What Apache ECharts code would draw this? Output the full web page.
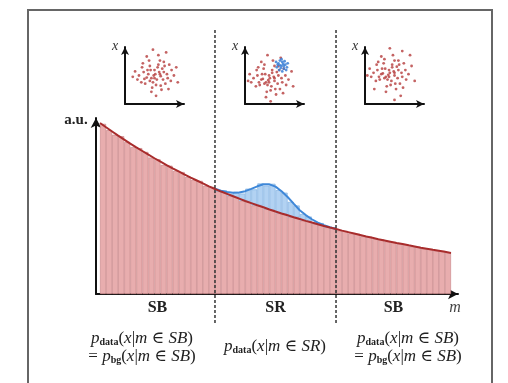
<!DOCTYPE html>
<html><head><meta charset="utf-8">
<script src="https://cdn.jsdelivr.net/npm/echarts@6/dist/echarts.min.js"></script>
<style>html,body{margin:0;padding:0;background:#fff}#c{width:508px;height:383px}</style>
</head><body><div id="c"></div>
<script>
// ---- data ----
const nBins = 58;
const srStart = 19, srEnd = 39;
// background histogram (bin heights, a.u.)
const bgBars = [94.0,90.6,88.0,87.2,84.0,81.2,80.6,78.5,75.4,74.5,71.3,70.9,68.0,67.4,64.6,63.0,62.5,59.8,59.2,
  56.8,56.3,54.2,53.7,51.5,51.1,49.0,48.8,46.9,46.5,44.6,44.3,42.5,42.3,40.6,40.3,38.7,38.4,36.9,36.6,
  35.1,34.9,33.5,33.3,31.9,31.7,30.4,30.2,29.0,28.8,27.6,27.5,26.3,26.2,25.1,24.9,23.9,23.8,23.0];
// signal histogram in SR (bins 19..38), stacked on background
const sigBars = [0.3,0.9,1.2,2.8,4.0,7.1,8.8,12.3,13.0,14.4,12.8,11.7,8.4,6.6,3.6,2.5,1.0,0.8,0.2,0.1];
// background fit curve at bin edges 0..58
const bgCurve = [94.5,92.1,89.8,87.5,85.3,83.1,81.0,79.0,77.0,75.0,73.1,71.2,69.4,67.7,66.0,64.3,62.7,61.1,59.5,
  58.0,56.6,55.3,54.0,52.7,51.4,50.2,49.0,47.9,46.7,45.6,44.5,43.5,42.4,41.4,40.4,39.5,38.5,37.6,36.7,
  35.9,35.0,34.2,33.4,32.6,31.8,31.1,30.3,29.6,28.9,28.2,27.6,26.9,26.3,25.6,25.0,24.4,23.9,23.3,22.7];
// background + signal curve at bin edges 19..39
const sbCurve = [58.2,57.1,56.3,56.0,56.1,56.8,58.1,59.5,60.6,60.6,59.3,56.8,53.6,49.9,46.3,43.6,41.3,39.4,38.0,36.9,35.9];
// inset scatter clouds (x vs. feature), arbitrary units
const scatterSB1 = [[51,52],[45,58],[58,49],[40,47],[62,55],[48,40],[55,66],[36,55],[67,46],[44,64],[53,44],[60,60],[30,50],[72,58],[47,32],[57,72],[38,38],[64,38],[50,58],[42,52],[56,55],[34,62],[69,66],[46,46],[52,36],[61,44],[28,44],[75,50],[43,72],[59,29],[49,50],[37,45],[66,52],[54,62],[41,58],[63,64],[33,40],[71,42],[46,26],[55,80],[25,56],[78,62],[52,20],[40,78],[65,84],[80,40],[22,48],[48,88],[58,35],[44,42],[35,68],[68,30],[57,52],[50,46],[62,70]];
const scatterSRbg = [[44,46],[38,52],[50,42],[33,44],[55,50],[41,36],[47,58],[28,50],[60,40],[36,60],[46,34],[53,55],[23,46],[64,50],[40,26],[50,64],[31,36],[57,30],[43,50],[35,45],[49,48],[27,58],[62,60],[39,40],[45,28],[54,38],[20,40],[68,44],[37,66],[52,22],[42,43],[30,40],[59,46],[47,54],[34,52],[56,58],[26,34],[65,36],[39,18],[48,72],[18,52],[72,56],[45,12],[33,70],[58,76],[74,34],[16,42],[41,80],[51,30],[37,38],[29,62],[61,24],[50,46],[43,40],[55,64]];
const scatterSRsig = [[59,64],[55,68],[62,60],[57,72],[64,66],[53,62],[60,70],[66,62],[56,58],[61,67],[58,61],[63,71],[54,66],[65,58],[60,56],[57,65],[62,64],[52,70],[67,68],[59,74]];
const scatterSB2 = [[44,54],[38,60],[50,50],[33,52],[55,58],[41,44],[47,66],[28,58],[60,48],[36,68],[46,42],[53,63],[23,54],[64,58],[40,34],[50,72],[31,44],[57,38],[43,58],[35,53],[49,56],[27,66],[62,68],[39,48],[45,36],[54,46],[20,48],[68,52],[37,74],[52,30],[42,51],[30,48],[59,54],[47,62],[34,60],[56,66],[26,42],[65,44],[39,26],[48,80],[18,60],[72,64],[50,14],[33,78],[60,86],[76,42],[15,50],[44,90],[51,38],[37,46],[29,70],[61,32],[50,54],[43,48],[55,72],[70,80],[58,20],[24,30]];
const regionLabels = ['SB','SR','SB'];
const regionCenters = [9.5, 29, 48.5];

// ---- build ----
const cats = bgBars.map((_, i) => 'b' + i);
const sigFull = bgBars.map((_, i) => (i >= srStart && i < srEnd) ? sigBars[i - srStart] : '-');
const bgCurveData = bgCurve.map((v, i) => [i, v]);
const sbCurveData = sbCurve.map((v, i) => [srStart + i, v]);

const AX = '#111';
const serif = '"Liberation Serif","DejaVu Serif",serif';
function insetAxis(grid, min, max) {
  return {type: 'value', gridIndex: grid, min, max, show: true,
    axisLine: {show: true, symbol: ['none', 'arrow'], symbolSize: [6, 8], lineStyle: {color: AX, width: 2}},
    axisTick: {show: false}, axisLabel: {show: false}, splitLine: {show: false}};
}
const hidden = (o) => Object.assign({show: false, splitLine: {show: false}}, o);

const insetLefts = [125, 245, 365];
const grids = [
  {left: 100, right: 57, top: 113, bottom: 89},       // 0 bars/curves
  {left: 96, right: 50, top: 118, bottom: 89},        // 1 main axes
  {left: 100, right: 57, top: 30, bottom: 60},        // 2 dashed lines
];
insetLefts.forEach(l => grids.push({left: l, top: 47, width: 59, height: 57}));

const xAxes = [
  hidden({type: 'category', gridIndex: 0, data: cats, boundaryGap: true}),
  hidden({type: 'value', gridIndex: 0, min: 0, max: nBins}),
  {type: 'value', gridIndex: 1, min: 0, max: 1,
    axisLine: {show: true, symbol: ['none', 'arrow'], symbolSize: [8, 10], lineStyle: {color: AX, width: 2}},
    axisTick: {show: false}, axisLabel: {show: false}, splitLine: {show: false}},
  hidden({type: 'value', gridIndex: 2, min: 0, max: nBins}),
];
const yAxes = [
  hidden({type: 'value', gridIndex: 0, min: 0, max: 100}),
  {type: 'value', gridIndex: 1, min: 0, max: 1,
    axisLine: {show: true, symbol: ['none', 'arrow'], symbolSize: [8, 10], lineStyle: {color: AX, width: 2}},
    axisTick: {show: false}, axisLabel: {show: false}, splitLine: {show: false}},
  hidden({type: 'value', gridIndex: 2, min: 0, max: 1}),
];
[3, 4, 5].forEach(g => { xAxes.push(insetAxis(g, 12, 88)); yAxes.push(insetAxis(g, 8, 92)); });

const dotRed = {color: '#b53c3c', opacity: 0.8};
const series = [
  {type: 'bar', xAxisIndex: 0, yAxisIndex: 0, stack: 'h', data: bgBars, barCategoryGap: '0%',
    itemStyle: {color: '#e8adae', borderColor: '#cc8a8c', borderWidth: 0.7}, z: 2},
  {type: 'bar', xAxisIndex: 0, yAxisIndex: 0, stack: 'h', data: sigFull, barCategoryGap: '0%',
    itemStyle: {color: '#b2d2f2', borderColor: '#86b4e3', borderWidth: 0.7}, z: 2},
  {type: 'line', xAxisIndex: 1, yAxisIndex: 0, data: sbCurveData, showSymbol: false,
    lineStyle: {color: '#3f88d8', width: 2}, z: 4},
  {type: 'line', xAxisIndex: 1, yAxisIndex: 0, data: bgCurveData, showSymbol: false,
    lineStyle: {color: '#a82c2c', width: 2}, z: 5},
];
[srStart, srEnd].forEach(b => series.push({type: 'line', xAxisIndex: 3, yAxisIndex: 2,
  data: [[b, 0], [b, 1]], showSymbol: false, lineStyle: {color: '#333', width: 1.5, type: [3, 2]}, z: 6}));
const clouds = [[scatterSB1], [scatterSRbg, scatterSRsig], [scatterSB2]];
clouds.forEach((list, k) => list.forEach((pts, j) => series.push({type: 'scatter', xAxisIndex: 4 + k, yAxisIndex: 3 + k,
  data: pts, symbolSize: 2.8, itemStyle: j === 0 ? dotRed : {color: '#3b7fd6', opacity: 0.85}, z: 3 + j})));

// text
const chart = echarts.init(document.getElementById('c'), null, {renderer: 'canvas'});
const pxX = v => 100 + v / nBins * 351;
const rich = {
  p: {fontFamily: serif, fontStyle: 'italic', fontSize: 17, color: '#333'},
  i: {fontFamily: serif, fontStyle: 'italic', fontSize: 17, color: '#333'},
  t: {fontFamily: serif, fontSize: 17, color: '#333'},
  s: {fontFamily: serif, fontWeight: 'bold', fontSize: 10, color: '#333', verticalAlign: 'bottom', lineHeight: 13},
};
const fData = '{p|p}{s|data}{t|(}{i|x}{t||}{i|m}{t| ∈ }{i|SB}{t|)}';
const fBg = '{t|= }{p|p}{s|bg}{t|(}{i|x}{t||}{i|m}{t| ∈ }{i|SB}{t|)}';
const fSR = '{p|p}{s|data}{t|(}{i|x}{t||}{i|m}{t| ∈ }{i|SR}{t|)}';
function txt(x, y, text, style) {
  return {type: 'text', x, y, style: Object.assign({text, textAlign: 'center', textVerticalAlign: 'middle', fill: '#222'}, style)};
}
const graphic = [
  {type: 'rect', shape: {x: 28, y: 10, width: 464, height: 400}, style: {fill: 'none', stroke: '#666', lineWidth: 2}, silent: true},
  txt(76, 120, 'a.u.', {font: 'bold 15px ' + serif}),
  txt(455, 308, 'm', {font: 'italic 16px ' + serif, fill: '#444'}),
  txt(115, 46, 'x', {font: 'italic 14px ' + serif, fill: '#333'}),
  txt(235, 46, 'x', {font: 'italic 14px ' + serif, fill: '#333'}),
  txt(355, 46, 'x', {font: 'italic 14px ' + serif, fill: '#333'}),
];
regionLabels.forEach((l, k) => graphic.push(txt(pxX(regionCenters[k]), 308, l, {font: 'bold 16px ' + serif})));
graphic.push(txt(142, 339, fData, {rich}), txt(142, 357, fBg, {rich}));
graphic.push(txt(275, 347, fSR, {rich}));
graphic.push(txt(408, 339, fData, {rich}), txt(408, 357, fBg, {rich}));

chart.setOption({animation: false, backgroundColor: '#fff', grid: grids, xAxis: xAxes, yAxis: yAxes, series, graphic});
</script></body></html>
